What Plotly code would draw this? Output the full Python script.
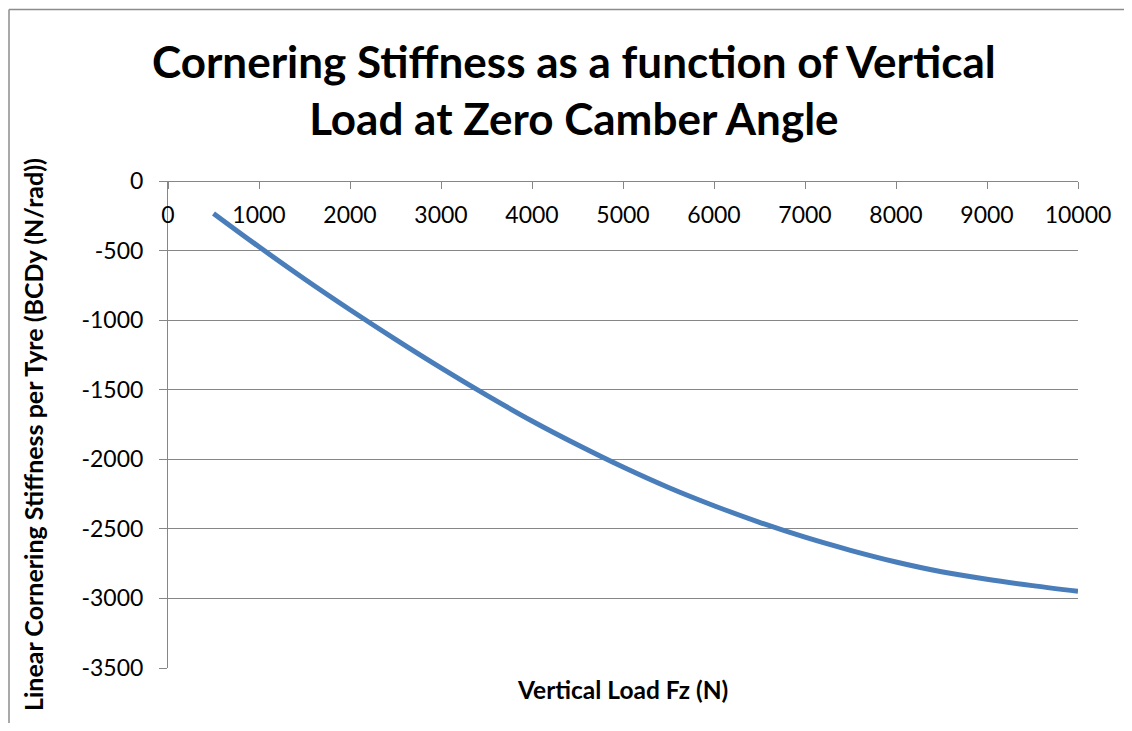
import plotly.graph_objects as go

# Data
vertical_load_n = [500, 1000, 1500, 2000, 2500, 3000, 3500, 4000, 4500, 5000,
                   5500, 6000, 6500, 7000, 7500, 8000, 8500, 9000, 9500, 10000]
cornering_stiffness = [-233, -473, -704, -925, -1138, -1343, -1539, -1725, -1896, -2056,
                       -2203, -2334, -2453, -2560, -2654, -2738, -2808, -2862, -2908, -2949]

x_tick_vals = [0, 1000, 2000, 3000, 4000, 5000, 6000, 7000, 8000, 9000, 10000]
x_tick_text = ["0", "1000", "2000", "3000", "4000", "5000", "6000", "7000", "8000", "9000", "10000"]
y_tick_vals = [0, -500, -1000, -1500, -2000, -2500, -3000, -3500]
y_tick_text = ["0", "-500", "-1000", "-1500", "-2000", "-2500", "-3000", "-3500"]

title_text = "Cornering Stiffness as a function of Vertical<br>Load at Zero Camber Angle"
x_title = "Vertical Load Fz (N)"
y_title = "Linear Cornering Stiffness per Tyre (BCDy (N/rad))"

FONT = "Lato"
GRID = "#868686"

# page body adds an 8px margin on every side; targets below are in screenshot pixels
OFF = 8
W, H = 1132 - 2 * OFF, 731 - 2 * OFF
PL, PR, PT, PB = 168, 1078, 181, 668          # plot area in screenshot px
L, T = PL - OFF, PT - OFF
R = W - (PR - OFF)
B = H - (PB - OFF)
pw, ph = PR - PL, PB - PT

def px_x(px):
    return (px - PL) / pw

def px_y(py):
    return (PB - py) / ph

fig = go.Figure()
fig.add_trace(go.Scatter(
    x=vertical_load_n, y=cornering_stiffness, mode="lines",
    line=dict(color="#4A7EBB", width=5, shape="spline", smoothing=1.0),
    showlegend=False, hoverinfo="x+y",
))

border = dict(color="#8C8C8C", width=1.5)

fig.update_layout(
    width=W, height=H,
    margin=dict(l=L, r=R, t=T, b=B, pad=0),
    paper_bgcolor="white", plot_bgcolor="white",
    font=dict(family=FONT, color="black"),
    showlegend=False,
    xaxis=dict(
        range=[0, 10000], tickmode="array", tickvals=x_tick_vals, ticktext=x_tick_text,
        anchor="free", position=1, side="bottom",
        showline=True, linecolor=GRID, linewidth=1,
        ticks="outside", ticklen=7, tickcolor=GRID, tickwidth=1,
        ticklabelstandoff=6,
        showgrid=False, zeroline=False,
        tickfont=dict(family=FONT, size=23, color="black"),
    ),
    yaxis=dict(
        range=[-3500, 0], tickmode="array", tickvals=y_tick_vals, ticktext=y_tick_text,
        showline=True, linecolor=GRID, linewidth=1,
        ticks="outside", ticklen=8, tickcolor=GRID, tickwidth=1,
        ticklabelstandoff=11,
        showgrid=True, gridcolor=GRID, gridwidth=1.3, zeroline=False,
        tickfont=dict(family=FONT, size=23, color="black"),
    ),
    annotations=[
        dict(text="<b>" + title_text + "</b>", x=px_x(574), y=px_y(89), xref="paper", yref="paper",
             showarrow=False, font=dict(family=FONT, size=44, color="black"),
             xanchor="center", yanchor="middle", align="center"),
        dict(text="<b>" + x_title + "</b>", x=px_x(622), y=px_y(689), xref="paper", yref="paper",
             showarrow=False, font=dict(family=FONT, size=24.5, color="black"),
             xanchor="center", yanchor="middle"),
        dict(text="<b>" + y_title + "</b>", x=px_x(33), y=px_y(435), xref="paper", yref="paper",
             showarrow=False, textangle=-90, font=dict(family=FONT, size=25, color="black"),
             xanchor="center", yanchor="middle"),
    ],
    shapes=[
        dict(type="line", xref="paper", yref="paper",
             x0=px_x(9), x1=px_x(9), y0=px_y(723), y1=px_y(9.5), line=border, layer="below"),
        dict(type="line", xref="paper", yref="paper",
             x0=px_x(9), x1=px_x(1124), y0=px_y(9.5), y1=px_y(9.5), line=border, layer="below"),
    ],
)

fig.write_html("out.html")
